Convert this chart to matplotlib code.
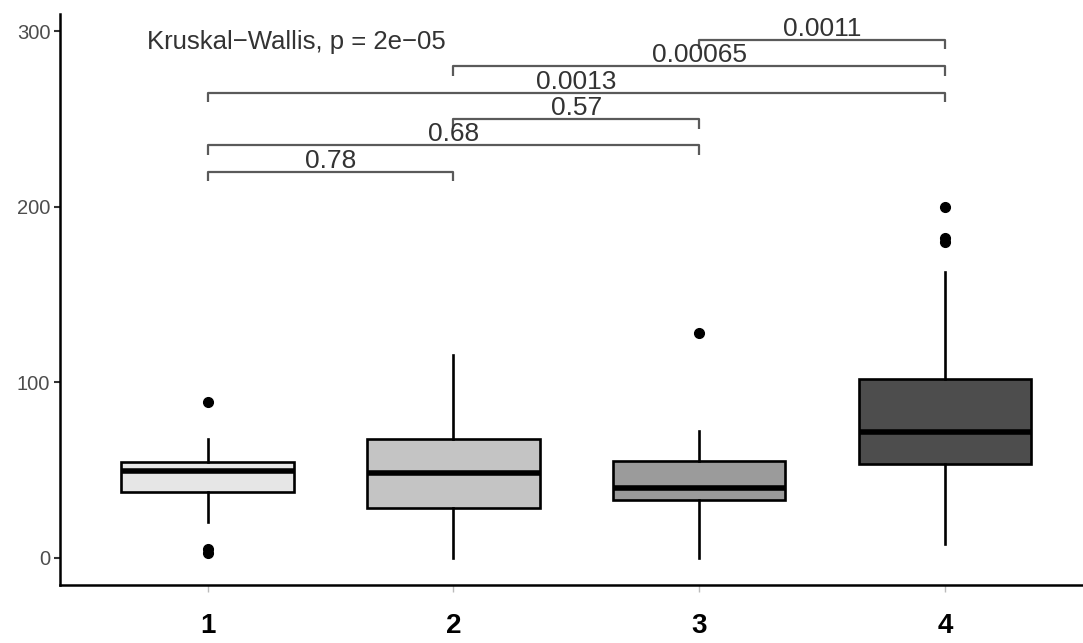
import matplotlib.pyplot as plt

plt.rcParams["font.family"] = ["Liberation Sans", "DejaVu Sans"]

# box summaries per group
groups = [1, 2, 3, 4]
q1 = [37.6, 28.5, 33.0, 53.5]
med = [49.5, 48.4, 40.0, 71.7]
q3 = [54.6, 67.7, 55.2, 101.9]
wlo = [20.5, 0.0, 0.0, 8.0]
whi = [68.0, 115.5, 72.3, 163.0]
outliers = [[88.8, 3.0, 5.0], [], [128.0], [200.0, 180.0, 182.0]]
fills = ["#E6E6E6", "#C4C4C4", "#9B9B9B", "#4D4D4D"]

# pairwise comparisons
pairs = [(1, 2), (1, 3), (2, 3), (1, 4), (2, 4), (3, 4)]
pair_y = [220, 235, 250, 265, 280, 295]
pair_p = ["0.78", "0.68", "0.57", "0.0013", "0.00065", "0.0011"]
kw_label = "Kruskal\u2212Wallis, p = 2e\u221205"

fig = plt.figure(figsize=(10.83, 6.43), dpi=100)
ax = fig.add_axes([60 / 1083, 1 - 585 / 643, 1 - 60 / 1083, (585 - 14) / 643])

stats = []
for i in range(len(groups)):
    stats.append(dict(med=med[i], q1=q1[i], q3=q3[i], whislo=wlo[i],
                      whishi=whi[i], fliers=outliers[i]))

bp = ax.bxp(stats, positions=groups, widths=0.7, patch_artist=True,
            showcaps=False,
            boxprops=dict(linewidth=1.9, edgecolor="black"),
            whiskerprops=dict(linewidth=1.9, color="black"),
            medianprops=dict(linewidth=4.0, color="black", solid_capstyle="butt"),
            flierprops=dict(marker="o", markerfacecolor="black",
                            markeredgecolor="black", markersize=7))
for patch, c in zip(bp["boxes"], fills):
    patch.set_facecolor(c)

# significance brackets
tip = 5.5
for (a, b), y, lab in zip(pairs, pair_y, pair_p):
    ax.plot([a, a, b, b], [y - tip, y, y, y - tip], color="#5A5A5A", lw=1.6,
            solid_capstyle="butt", clip_on=False)
    ax.text((a + b) / 2, y + 2.2, lab, ha="center", va="baseline",
            fontsize=19, color="#333333")

ax.text(0.753, 293.5, kw_label, ha="left", va="center", fontsize=18.5,
        color="#333333")

ax.set_xlim(0.4, 4.56)
ax.set_ylim(-15.4, 309.7)
ax.set_yticks([0, 100, 200, 300])
ax.set_xticks(groups)
ax.set_xticklabels([str(g) for g in groups], fontsize=20, fontweight="bold")

for s in ["top", "right"]:
    ax.spines[s].set_visible(False)
for s in ["left", "bottom"]:
    ax.spines[s].set_linewidth(1.8)
    ax.spines[s].set_color("black")

ax.tick_params(axis="y", length=4, width=1.5, color="#333333",
               labelsize=14.5, labelcolor="#4D4D4D", pad=3)
ax.tick_params(axis="x", length=5, width=1, color="#BBBBBB",
               pad=15, labelcolor="black")

fig.savefig("out.png", dpi=100)
